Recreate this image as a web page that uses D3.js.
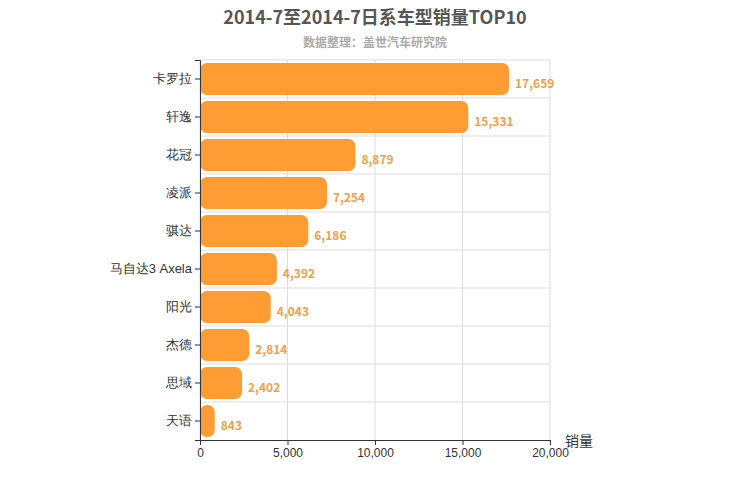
<!DOCTYPE html>
<html><head><meta charset="utf-8">
<script src="https://cdn.jsdelivr.net/npm/d3@7"></script>
<style>body{margin:0;background:#fff;font-family:"Microsoft YaHei","Noto Sans CJK SC",sans-serif;}</style>
</head><body><div id="chart"></div>
<script>
const categories = ["卡罗拉","轩逸","花冠","凌派","骐达","马自达3 Axela","阳光","杰德","思域","天语"];
const sales = [17659,15331,8879,7254,6186,4392,4043,2814,2402,843];
const ticks = [0,5000,10000,15000,20000];

const W = 750, H = 500;
const mLeft = 200, mRight = 550, mTop = 60, mBottom = 440;
const svg = d3.select("#chart").append("svg").attr("width", W).attr("height", H);

const x = d3.scaleLinear().domain([0, 20000]).range([mLeft, mRight]);
const y = d3.scaleBand().domain(categories).range([mTop, mBottom]).paddingInner(0.16).paddingOuter(0.08);
const rows = d3.scaleBand().domain(categories).range([mTop, mBottom]);

// grid
svg.selectAll(".vg").data(ticks).join("line")
  .attr("x1", d => x(d)).attr("x2", d => x(d)).attr("y1", mTop).attr("y2", mBottom)
  .attr("stroke", "#ddd");
svg.selectAll(".hg").data(categories).join("line")
  .attr("x1", mLeft).attr("x2", mRight)
  .attr("y1", d => rows(d)).attr("y2", d => rows(d))
  .attr("stroke", "#ddd");

// bars
svg.selectAll(".bar").data(sales).join("rect")
  .attr("x", x(0)).attr("y", (d, i) => y(categories[i]))
  .attr("width", d => x(d) - x(0)).attr("height", y.bandwidth())
  .attr("rx", 7).attr("fill", "#ff9c33");

svg.selectAll(".lbl").data(sales).join("text")
  .attr("x", d => x(d) + 6).attr("y", (d, i) => y(categories[i]) + y.bandwidth() / 2 + 9)
  .attr("fill", "#f0a048").attr("font-size", 12).attr("font-weight", "bold")
  .text(d => d3.format(",")(d));

// axes
const xa = svg.append("g").attr("transform", `translate(0,${mBottom})`)
  .call(d3.axisBottom(x).tickValues(ticks).tickFormat(d3.format(",")).tickSize(5));
xa.selectAll("text").attr("font-size", 12).attr("fill", "#333").attr("font-family", "inherit");
xa.selectAll("line,path").attr("stroke", "#333");

const ya = svg.append("g").attr("transform", `translate(${mLeft},0)`)
  .call(d3.axisLeft(rows).tickSize(5));
ya.selectAll("text").attr("font-size", 13).attr("fill", "#333").attr("font-family", "inherit");
ya.selectAll("line,path").attr("stroke", "#333");

svg.append("text").attr("x", 565).attr("y", 446).attr("font-size", 14).attr("fill", "#333").text("销量");

svg.append("text").attr("x", 375).attr("y", 24).attr("text-anchor", "middle")
  .attr("font-size", 18).attr("font-weight", "bold").attr("fill", "#555").text("2014-7至2014-7日系车型销量TOP10");
svg.append("text").attr("x", 375).attr("y", 47).attr("text-anchor", "middle")
  .attr("font-size", 12).attr("font-weight", "bold").attr("fill", "#aaa").text("数据整理：盖世汽车研究院");
</script></body></html>
